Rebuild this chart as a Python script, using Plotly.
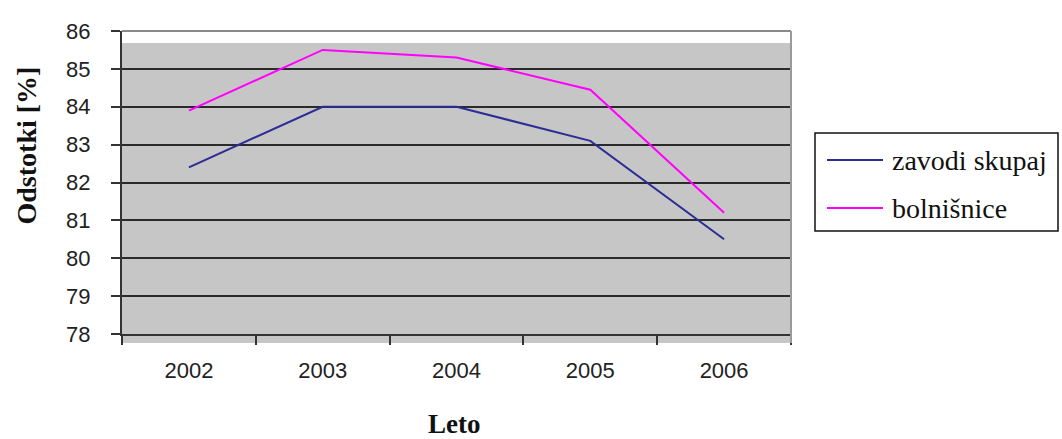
import plotly.graph_objects as go

# Years on the category axis
years = ["2002", "2003", "2004", "2005", "2006"]

# Share in percent per year
zavodi_skupaj = [82.4, 84.0, 84.0, 83.1, 80.5]
bolnisnice = [83.9, 85.5, 85.3, 84.45, 81.2]

series_names = ["zavodi skupaj", "bolnišnice"]
series_colors = ["#2c2c96", "#ff00ff"]

y_min, y_max = 78, 86

W, H = 1062, 439
L, R, T, B = 122, 271, 31, 105
plot_w = W - L - R
plot_h = H - T - B


def px_x(px):
    return (px - L) / plot_w


def px_y(py):
    return (H - B - py) / plot_h


fig = go.Figure()

for name, vals, col in zip(series_names, [zavodi_skupaj, bolnisnice], series_colors):
    fig.add_trace(go.Scatter(
        x=years, y=vals, mode="lines", name=name,
        line=dict(color=col, width=2),
        showlegend=False, hoverinfo="skip",
    ))

shapes = [
    # grey plot panel
    dict(type="rect", xref="paper", yref="paper",
         x0=0, x1=1, y0=px_y(343), y1=px_y(43),
         fillcolor="#c6c6c6", line=dict(width=0), layer="below"),
    # top and right frame
    dict(type="line", xref="paper", yref="paper", x0=0, x1=1, y0=1, y1=1,
         line=dict(color="#8a8a8a", width=2), layer="above"),
    dict(type="line", xref="paper", yref="paper", x0=1, x1=1, y0=px_y(343), y1=1,
         line=dict(color="#9a9a9a", width=2), layer="above"),
    # legend box
    dict(type="rect", xref="paper", yref="paper",
         x0=px_x(815), x1=px_x(1058), y0=px_y(231), y1=px_y(133),
         fillcolor="white", line=dict(color="#111111", width=1.5), layer="above"),
]

annotations = [
    dict(text="Odstotki [%]", xref="paper", yref="paper",
         x=px_x(25.5), y=px_y(146), textangle=-90, showarrow=False,
         xanchor="center", yanchor="middle",
         font=dict(family="Liberation Serif", size=28, color="#111111", weight="bold")),
    dict(text="Leto", xref="paper", yref="paper",
         x=px_x(453.5), y=px_y(441), showarrow=False,
         xanchor="center", yanchor="bottom",
         font=dict(family="Liberation Serif", size=27, color="#111111", weight="bold")),
]

legend_rows = [160, 208]
for name, col, row in zip(series_names, series_colors, legend_rows):
    shapes.append(dict(type="line", xref="paper", yref="paper",
                       x0=px_x(827), x1=px_x(883), y0=px_y(row), y1=px_y(row),
                       line=dict(color=col, width=2), layer="above"))
    annotations.append(dict(text=name, xref="paper", yref="paper",
                            x=px_x(890), y=px_y(row), showarrow=False,
                            xanchor="left", yanchor="middle",
                            font=dict(family="Liberation Serif", size=28, color="#111111")))

fig.update_layout(
    width=W, height=H,
    margin=dict(l=L, r=R, t=T, b=B, pad=0),
    paper_bgcolor="white", plot_bgcolor="rgba(0,0,0,0)",
    shapes=shapes, annotations=annotations,
    showlegend=False,
)

fig.update_xaxes(
    type="category", categoryorder="array", categoryarray=years,
    range=[-0.5, len(years) - 0.5],
    showgrid=False, zeroline=False,
    showline=True, linecolor="#333333", linewidth=2,
    ticks="outside", tickson="boundaries", ticklen=9, tickwidth=2, tickcolor="#333333",
    ticklabelstandoff=16,
    tickfont=dict(family="Liberation Sans", size=22, color="#222222"),
)

fig.update_yaxes(
    range=[y_min, y_max], tick0=y_min, dtick=1,
    showgrid=True, gridcolor="#2a2a2a", gridwidth=1.5,
    zeroline=False,
    showline=True, linecolor="#333333", linewidth=2,
    ticks="outside", ticklen=9, tickwidth=2, tickcolor="#333333",
    ticklabelstandoff=16,
    tickfont=dict(family="Liberation Sans", size=22, color="#222222"),
)

fig.write_html("out.html")
